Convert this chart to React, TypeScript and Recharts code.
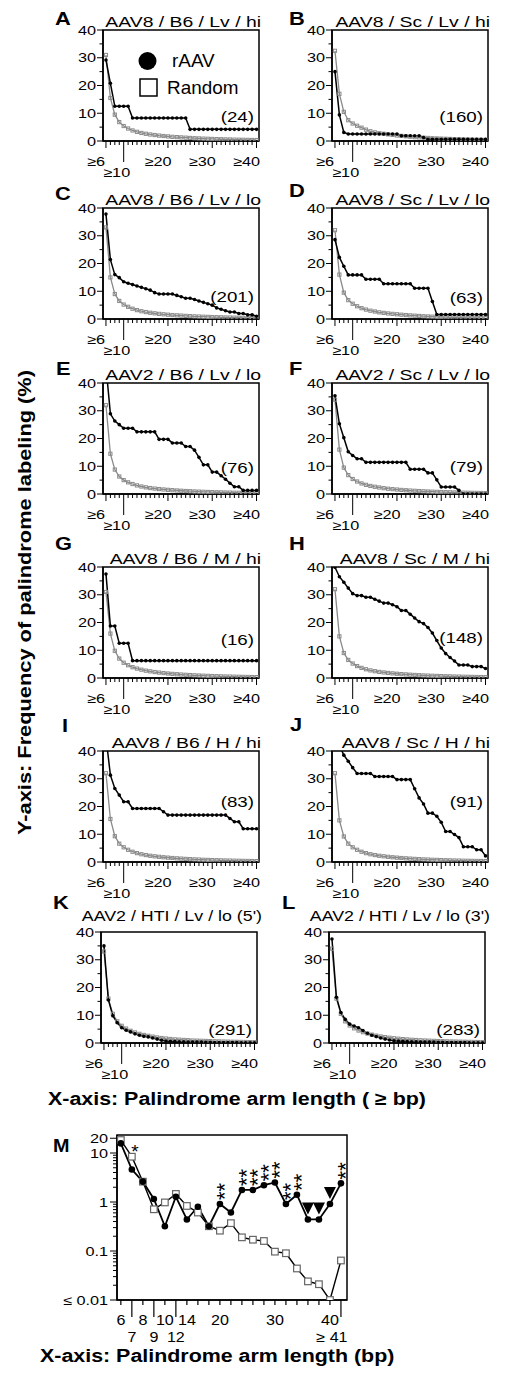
import React from 'react';
import { LineChart, Line, XAxis, YAxis, ReferenceArea, LabelList, Legend } from 'recharts';

const FONT = '"Liberation Sans", Arial, Helvetica, sans-serif';

// ---------- data: panels A–L (x = palindrome arm length >= n bp) ----------
const armLengths = [6, 7, 8, 9, 10, 11, 12, 13, 14, 15, 16, 17, 18, 19, 20, 21, 22, 23, 24, 25, 26, 27, 28, 29, 30, 31, 32, 33, 34, 35, 36, 37, 38, 39, 40];
const yTicksSmall = [0, 5, 10, 15, 20, 25, 30, 35, 40];
const xLabelValues = [6, 10, 20, 30, 40];
const xLabelText = ['≥6', '≥10', '≥20', '≥30', '≥40'];

const rAAV_A = [29.2, 20.8, 12.5, 12.5, 12.5, 12.5, 8.3, 8.3, 8.3, 8.3, 8.3, 8.3, 8.3, 8.3, 8.3, 8.3, 8.3, 8.3, 8.3, 4.2, 4.2, 4.2, 4.2, 4.2, 4.2, 4.2, 4.2, 4.2, 4.2, 4.2, 4.2, 4.2, 4.2, 4.2, 4.2];
const random_A = [31, 15.5, 9.5, 6.8, 5.4, 4.5, 3.8, 3.3, 2.9, 2.6, 2.35, 2.15, 1.95, 1.8, 1.65, 1.5, 1.4, 1.3, 1.2, 1.1, 1.0, 0.93, 0.86, 0.8, 0.74, 0.68, 0.63, 0.58, 0.54, 0.5, 0.46, 0.43, 0.4, 0.37, 0.34];

const rAAV_B = [25, 9.4, 3.1, 2.5, 2.5, 2.5, 2.5, 2.5, 2.5, 2.5, 2.5, 2.5, 2.5, 2.5, 2.5, 1.9, 1.9, 1.9, 1.9, 1.9, 1.25, 0.6, 0.6, 0.6, 0.6, 0.6, 0.6, 0.6, 0.6, 0.6, 0.6, 0.6, 0.6, 0.6, 0.6];
const random_B = [32.5, 17, 10.5, 7.5, 6.3, 5.5, 4.8, 4.1, 3.5, 3.1, 2.8, 2.6, 2.4, 2.2, 2.0, 1.85, 1.7, 1.55, 1.4, 1.3, 1.2, 1.1, 1.0, 0.93, 0.86, 0.8, 0.74, 0.68, 0.63, 0.58, 0.54, 0.5, 0.46, 0.43, 0.4];

const rAAV_C = [37.8, 21.4, 16, 14.9, 13.4, 12.9, 12.4, 11.9, 11.4, 10.9, 10.4, 9.5, 9, 9, 9, 9, 8.5, 8, 7.5, 7.5, 7, 6.5, 6, 5.5, 5, 4, 3.5, 3, 2.5, 2.5, 2, 2, 1.5, 1.5, 1];
const random_C = [33, 15, 9, 6.5, 5.2, 4.4, 3.7, 3.2, 2.8, 2.5, 2.25, 2.05, 1.85, 1.7, 1.55, 1.42, 1.32, 1.22, 1.12, 1.03, 0.95, 0.88, 0.82, 0.76, 0.7, 0.65, 0.6, 0.56, 0.52, 0.48, 0.45, 0.42, 0.39, 0.36, 0.33];

const rAAV_D = [28.6, 22.2, 19, 15.9, 15.9, 15.9, 15.9, 14.3, 14.3, 14.3, 14.3, 12.7, 12.7, 12.7, 12.7, 12.7, 12.7, 12.7, 11.1, 11.1, 11.1, 11.1, 6.3, 1.6, 1.6, 1.6, 1.6, 1.6, 1.6, 1.6, 1.6, 1.6, 1.6, 1.6, 1.6];
const random_D = [32, 16, 9.5, 6.8, 5.5, 4.6, 3.9, 3.4, 3.0, 2.7, 2.4, 2.2, 2.0, 1.85, 1.7, 1.55, 1.42, 1.3, 1.2, 1.1, 1.0, 0.92, 0.85, 0.78, 0.72, 0.66, 0.61, 0.56, 0.52, 0.48, 0.44, 0.41, 0.38, 0.35, 0.32];

const rAAV_E = [46, 28.9, 26.3, 25, 23.7, 23.7, 23.7, 22.4, 22.4, 22.4, 22.4, 22.4, 19.7, 19.7, 19.7, 18.4, 18.4, 18.4, 17.1, 17.1, 15.8, 13.2, 10.5, 10.5, 7.9, 7.9, 6.6, 5.3, 3.9, 2.6, 2.6, 1.3, 1.3, 1.3, 1.3];
const random_E = [32, 14.5, 8.8, 6.3, 5.0, 4.2, 3.6, 3.1, 2.7, 2.4, 2.15, 1.95, 1.78, 1.63, 1.5, 1.38, 1.27, 1.17, 1.08, 1.0, 0.92, 0.85, 0.79, 0.73, 0.68, 0.63, 0.58, 0.54, 0.5, 0.46, 0.43, 0.4, 0.37, 0.34, 0.31];

const rAAV_F = [35.4, 25.3, 20.3, 15.2, 13.9, 12.7, 12.7, 11.4, 11.4, 11.4, 11.4, 11.4, 11.4, 11.4, 11.4, 11.4, 11.4, 8.9, 8.9, 8.9, 8.9, 7.6, 7.6, 5.1, 2.5, 2.5, 2.5, 2.5, 1.3, 0, 0, 0, 0, 0, 0];
const random_F = [34, 16, 9.5, 6.8, 5.4, 4.5, 3.8, 3.3, 2.9, 2.6, 2.35, 2.1, 1.9, 1.75, 1.6, 1.47, 1.35, 1.25, 1.15, 1.06, 0.98, 0.9, 0.83, 0.77, 0.71, 0.66, 0.61, 0.56, 0.52, 0.48, 0.45, 0.42, 0.39, 0.36, 0.33];

const rAAV_G = [37.5, 18.75, 18.75, 12.5, 12.5, 12.5, 6.25, 6.25, 6.25, 6.25, 6.25, 6.25, 6.25, 6.25, 6.25, 6.25, 6.25, 6.25, 6.25, 6.25, 6.25, 6.25, 6.25, 6.25, 6.25, 6.25, 6.25, 6.25, 6.25, 6.25, 6.25, 6.25, 6.25, 6.25, 6.25];
const random_G = [31, 16, 9.8, 7, 5.5, 4.6, 3.9, 3.4, 3.0, 2.65, 2.4, 2.15, 1.95, 1.78, 1.62, 1.48, 1.36, 1.25, 1.15, 1.06, 0.98, 0.9, 0.83, 0.77, 0.71, 0.65, 0.6, 0.55, 0.51, 0.47, 0.44, 0.41, 0.38, 0.35, 0.32];

const rAAV_H = [39.9, 36.5, 34.5, 32.4, 30.4, 29.7, 29.7, 29.1, 29.1, 28.4, 27.7, 27, 27, 26.4, 25.7, 24.3, 24.3, 23, 21.6, 20.3, 19.6, 18.2, 16.2, 13.5, 10.8, 8.8, 7.4, 6.1, 4.7, 4.7, 4.7, 4.1, 4.1, 4.1, 3.4];
const random_H = [32, 15, 9, 6.5, 5.2, 4.3, 3.65, 3.15, 2.75, 2.45, 2.2, 2.0, 1.82, 1.67, 1.53, 1.4, 1.29, 1.19, 1.1, 1.01, 0.93, 0.86, 0.8, 0.74, 0.68, 0.63, 0.58, 0.54, 0.5, 0.46, 0.43, 0.4, 0.37, 0.34, 0.31];

const rAAV_I = [45, 31.3, 26.5, 24.1, 21.7, 21.7, 19.3, 19.3, 19.3, 19.3, 19.3, 19.3, 19.3, 18.1, 16.9, 16.9, 16.9, 16.9, 16.9, 16.9, 16.9, 16.9, 16.9, 16.9, 16.9, 16.9, 16.9, 16.9, 15.7, 14.5, 14.5, 12, 12, 12, 12];
const random_I = [32, 15.5, 9.3, 6.6, 5.3, 4.4, 3.7, 3.2, 2.8, 2.5, 2.25, 2.05, 1.87, 1.71, 1.57, 1.44, 1.32, 1.22, 1.12, 1.03, 0.95, 0.88, 0.81, 0.75, 0.69, 0.64, 0.59, 0.55, 0.51, 0.47, 0.44, 0.41, 0.38, 0.35, 0.32];

const rAAV_J = [55, 42, 38.5, 36.3, 34, 31.9, 31.9, 31.9, 31.9, 30.8, 30.8, 30.8, 30.8, 30.8, 29.7, 29.7, 29.7, 29.7, 26.4, 23.1, 20.9, 17.6, 17.6, 16.5, 14.3, 11, 11, 9.9, 8.8, 5.5, 5.5, 5.5, 4.4, 4.4, 2.2];
const random_J = [32, 15, 9.2, 6.6, 5.3, 4.4, 3.7, 3.2, 2.8, 2.5, 2.25, 2.05, 1.87, 1.71, 1.57, 1.44, 1.32, 1.22, 1.12, 1.03, 0.95, 0.88, 0.81, 0.75, 0.69, 0.64, 0.59, 0.55, 0.51, 0.47, 0.44, 0.41, 0.38, 0.35, 0.32];

const rAAV_K = [35, 15.5, 9.8, 7.3, 5.5, 4.6, 4.0, 3.3, 2.8, 2.4, 2.2, 1.8, 1.4, 1.0, 0.7, 0.6, 0.5, 0.45, 0.4, 0.35, 0.3, 0.3, 0.3, 0.25, 0.25, 0.2, 0.2, 0.2, 0.15, 0.15, 0.15, 0.1, 0.1, 0.1, 0.1];
const random_K = [33, 16, 10.5, 7.8, 6.2, 5.2, 4.4, 3.8, 3.3, 2.9, 2.6, 2.3, 2.0, 1.8, 1.6, 1.45, 1.3, 1.2, 1.1, 1.0, 0.9, 0.85, 0.8, 0.74, 0.68, 0.62, 0.57, 0.53, 0.49, 0.45, 0.42, 0.39, 0.36, 0.33, 0.3];

const rAAV_L = [37.5, 16.5, 11, 8.5, 6.8, 6.1, 5.5, 4.5, 3.5, 2.8, 2.3, 1.8, 1.4, 1.1, 0.8, 0.7, 0.6, 0.5, 0.45, 0.4, 0.35, 0.35, 0.3, 0.3, 0.25, 0.25, 0.2, 0.2, 0.2, 0.15, 0.15, 0.1, 0.1, 0.1, 0.1];
const random_L = [34, 16, 10.5, 7.8, 6.3, 5.3, 4.5, 3.9, 3.4, 3.0, 2.65, 2.35, 2.1, 1.9, 1.7, 1.55, 1.4, 1.28, 1.17, 1.07, 0.98, 0.9, 0.83, 0.77, 0.71, 0.65, 0.6, 0.55, 0.51, 0.47, 0.44, 0.41, 0.38, 0.35, 0.32];

// ---------- data: panel M (per arm length, log scale) ----------
const mCats = ['6', '7', '8', '9', '10', '12', '14', '16', '18', '20', '22', '24', '26', '28', '30', '32', '34', '36', '38', '40', '≥41'];
const mRaav = [15.7, 4.6, 2.6, 1.15, 0.32, 1.28, 0.44, 0.8, 0.32, 0.91, 0.61, 1.76, 1.76, 2.2, 2.5, 0.91, 1.41, 0.44, 0.44, 0.91, 2.4];
const mRandom = [18.4, 8.4, 2.6, 0.71, 0.98, 1.46, 0.83, 0.61, 0.32, 0.26, 0.37, 0.19, 0.17, 0.16, 0.097, 0.09, 0.044, 0.024, 0.021, 0.01, 0.064];
const mSig = ['', '*', '', '', '', '', '', '', '', '**', '', '**', '**', '**', '**', '**', '**', '', '', '', '**'];
const mDepleted = [0, 0, 0, 0, 0, 0, 0, 0, 0, 0, 0, 0, 0, 0, 0, 0, 0, 1, 1, 1, 0];
const mRow1 = ['6', '8', '10', '14', '20', '30', '40'];
const mRow2 = ['7', '9', '12', '≥41'];
const mYTicks = [0.01, 0.02, 0.03, 0.04, 0.05, 0.06, 0.07, 0.08, 0.09, 0.1, 0.2, 0.3, 0.4, 0.5, 0.6, 0.7, 0.8, 0.9, 1, 2, 3, 4, 5, 6, 7, 8, 9, 10, 20];
const mYLabelValues = [0.01, 0.1, 1, 10, 20];
const mYLabelText = ['≤ 0.01', '0.1', '1', '10', '20'];

// ---------- helpers ----------
function Txt(props: any) {
  const { x, y, anchor = 'start', size = 13, weight = 'normal', sx = 1.25, rotate = 0, children } = props;
  return (
    <text
      transform={`translate(${x},${y})${rotate ? ` rotate(${rotate})` : ''} scale(${sx},1)`}
      textAnchor={anchor}
      fontSize={size}
      fontWeight={weight}
      fontFamily={FONT}
      fill="#000"
    >
      {children}
    </text>
  );
}

const PW = 156, PH = 111, YW = 45, MT = 8, MR = 4, XH = 45;
const X_DOMAIN: [number, number] = [5.33, 40.56];
const rowTops = [30, 208, 383, 567, 751, 932];

function SmallXTick(p: any) {
  const { x, y, payload } = p;
  const v = payload.value;
  const li = xLabelValues.indexOf(v);
  const len = v === 10 ? 21 : li >= 0 ? 7 : 4;
  return (
    <g>
      <line x1={x} x2={x} y1={y} y2={y + len} stroke="#000" strokeWidth={1} />
      {li >= 0 && (
        <Txt x={x + (v === 10 ? -7 : -10)} y={y + (v === 10 ? 36 : 25)} anchor="middle" size={13}>
          {xLabelText[li]}
        </Txt>
      )}
    </g>
  );
}

function SmallYTick(p: any) {
  const { x, y, payload } = p;
  const v = payload.value;
  const major = v % 10 === 0;
  return (
    <g>
      <line x1={x} x2={x - (major ? 6 : 3.5)} y1={y} y2={y} stroke="#000" strokeWidth={1} />
      {major && (
        <Txt x={x - 7} y={y + 4.6} anchor="end" size={13}>
          {String(v)}
        </Txt>
      )}
    </g>
  );
}

const smallCircle = (p: any) =>
  p.cx == null || p.cy == null ? <g key={`c${p.index}`} /> : <circle key={`c${p.index}`} cx={p.cx} cy={p.cy} r={1.8} fill="#000" />;
const smallSquare = (p: any) =>
  p.cx == null || p.cy == null ? <g key={`s${p.index}`} /> : (
    <rect key={`s${p.index}`} x={p.cx - 1.6} y={p.cy - 1.6} width={3.2} height={3.2} fill="none" stroke="#8a8a8a" strokeWidth={1} />
  );

type PanelSpec = {
  id: string; title: string; n: string; raav: number[]; random: number[];
  col: number; row: number; letterDx: number; letterDy: number; nDy: number; titleDy: number; titleDx: number; titleSx: number; legend?: boolean;
};

const panels: PanelSpec[] = [
  { id: 'A', title: 'AAV8 / B6 / Lv / hi', n: '(24)', raav: rAAV_A, random: random_A, col: 0, row: 0, letterDx: -48, letterDy: -5, nDy: 19, titleDy: -3, titleDx: 2, titleSx: 1.25, legend: true },
  { id: 'B', title: 'AAV8 / Sc / Lv / hi', n: '(160)', raav: rAAV_B, random: random_B, col: 1, row: 0, letterDx: -43, letterDy: -5, nDy: 19, titleDy: -3, titleDx: 2, titleSx: 1.25 },
  { id: 'C', title: 'AAV8 / B6 / Lv / lo', n: '(201)', raav: rAAV_C, random: random_C, col: 0, row: 1, letterDx: -48, letterDy: -8, nDy: 17, titleDy: -3, titleDx: 2, titleSx: 1.25 },
  { id: 'D', title: 'AAV8 / Sc / Lv / lo', n: '(63)', raav: rAAV_D, random: random_D, col: 1, row: 1, letterDx: -43, letterDy: -11, nDy: 16, titleDy: -3, titleDx: 2, titleSx: 1.25 },
  { id: 'E', title: 'AAV2 / B6 / Lv / lo', n: '(76)', raav: rAAV_E, random: random_E, col: 0, row: 2, letterDx: -47, letterDy: -8, nDy: 21, titleDy: -3, titleDx: 2, titleSx: 1.25 },
  { id: 'F', title: 'AAV2 / Sc / Lv / lo', n: '(79)', raav: rAAV_F, random: random_F, col: 1, row: 2, letterDx: -43, letterDy: -8, nDy: 22, titleDy: -3, titleDx: 2, titleSx: 1.25 },
  { id: 'G', title: 'AAV8 / B6 / M / hi', n: '(16)', raav: rAAV_G, random: random_G, col: 0, row: 3, letterDx: -48, letterDy: -17, nDy: 33, titleDy: -3, titleDx: 2, titleSx: 1.25 },
  { id: 'H', title: 'AAV8 / Sc / M / hi', n: '(148)', raav: rAAV_H, random: random_H, col: 1, row: 3, letterDx: -43, letterDy: -17, nDy: 35, titleDy: -3, titleDx: 2, titleSx: 1.25 },
  { id: 'I', title: 'AAV8 / B6 / H / hi', n: '(83)', raav: rAAV_I, random: random_I, col: 0, row: 4, letterDx: -41, letterDy: -19, nDy: 55, titleDy: -3, titleDx: 2, titleSx: 1.25 },
  { id: 'J', title: 'AAV8 / Sc / H / hi', n: '(91)', raav: rAAV_J, random: random_J, col: 1, row: 4, letterDx: -42, letterDy: -20, nDy: 55, titleDy: -3, titleDx: 2, titleSx: 1.25 },
  { id: 'K', title: "AAV2 / HTI / Lv / lo (5')", n: '(291)', raav: rAAV_K, random: random_K, col: 0, row: 5, letterDx: -48, letterDy: -23, nDy: 8, titleDy: -11, titleDx: 5, titleSx: 1.15 },
  { id: 'L', title: "AAV2 / HTI / Lv / lo (3')", n: '(283)', raav: rAAV_L, random: random_L, col: 1, row: 5, letterDx: -47, letterDy: -23, nDy: 8, titleDy: -11, titleDx: 5, titleSx: 1.15 },
];

function plotBox(s: PanelSpec) {
  const lefts = s.row === 5 ? [101, 329] : [103, 332];
  return { left: lefts[s.col], top: rowTops[s.row] };
}

function LegendBox() {
  return (
    <svg width={120} height={60} style={{ overflow: 'visible' }}>
      <circle cx={17.5} cy={16} r={9} fill="#000" />
      <Txt x={42} y={22} size={18} sx={1.05}>rAAV</Txt>
      <rect x={10} y={34} width={17} height={17} fill="#fff" stroke="#000" strokeWidth={1.5} />
      <Txt x={37} y={49} size={18} sx={1.05}>Random</Txt>
    </svg>
  );
}

function Panel({ spec }: { spec: PanelSpec }) {
  const { left, top } = plotBox(spec);
  const data = armLengths.map((x, i) => ({ x, raav: spec.raav[i], random: spec.random[i] }));
  return (
    <div style={{ position: 'absolute', left: left - YW, top: top - MT }}>
      <LineChart width={YW + PW + MR} height={MT + PH + XH} data={data} margin={{ top: MT, right: MR, bottom: 0, left: 0 }}>
        <XAxis dataKey="x" type="number" domain={X_DOMAIN} allowDataOverflow ticks={armLengths} interval={0} height={XH}
          tickSize={0} tickMargin={0} tickLine={false} tick={SmallXTick} axisLine={{ stroke: '#000', strokeWidth: 1.5 }} />
        <YAxis type="number" domain={[0, 40]} allowDataOverflow ticks={yTicksSmall} interval={0} width={YW}
          tickSize={0} tickMargin={0} tickLine={false} tick={SmallYTick} axisLine={{ stroke: '#000', strokeWidth: 1.5 }} />
        <ReferenceArea x1={X_DOMAIN[0]} x2={X_DOMAIN[1]} y1={0} y2={40} fill="none" fillOpacity={0} stroke="#000" strokeWidth={1.5} ifOverflow="visible" />
        <Line type="linear" dataKey="random" name="Random" stroke="#8a8a8a" strokeWidth={1.3} dot={smallSquare} activeDot={false} isAnimationActive={false} />
        <Line type="linear" dataKey="raav" name="rAAV" stroke="#000" strokeWidth={1.5} dot={smallCircle} activeDot={false} isAnimationActive={false} />
        {spec.legend && (
          <Legend layout="horizontal" verticalAlign="middle" align="center" content={() => <LegendBox />}
            wrapperStyle={{ left: 72, top: 23, width: 120, height: 60 }} />
        )}
      </LineChart>
    </div>
  );
}

// ---------- panel M ----------
const M_LEFT = 117, M_TOP = 1135, M_W = 230, M_H = 165, M_YW = 60, M_XH = 50, M_MR = 24;
const M_XDOMAIN: [number, number] = [-0.35, 20.55];
const M_YDOMAIN: [number, number] = [0.01, 23.3];

function MXTick(p: any) {
  const { x, y, payload } = p;
  const lbl = mCats[payload.value];
  const r2 = mRow2.indexOf(lbl) >= 0;
  const r1 = mRow1.indexOf(lbl) >= 0;
  return (
    <g>
      <line x1={x} x2={x} y1={y} y2={y + (r2 ? 17 : 5)} stroke="#000" strokeWidth={1.2} />
      {(r1 || r2) && (
        <Txt x={x + (lbl === '≥41' ? -9 : 0)} y={y + (r2 ? 42 : 25)} anchor="middle" size={14} sx={1.15}>
          {lbl === '≥41' ? '≥ 41' : lbl}
        </Txt>
      )}
    </g>
  );
}

function MYTick(p: any) {
  const { x, y, payload } = p;
  const idx = mYLabelValues.indexOf(payload.value);
  const major = idx >= 0;
  return (
    <g>
      <line x1={x} x2={x - (major ? 7 : 4)} y1={y} y2={y} stroke="#000" strokeWidth={1} />
      {major && (
        <Txt x={x - 9} y={y + 4.6} anchor="end" size={13}>
          {mYLabelText[idx]}
        </Txt>
      )}
    </g>
  );
}

// significance asterisks: "**" is one text turned upright so the two stars stack vertically
function StarMark(p: any) {
  const { x, y, value } = p;
  if (!value || x == null || y == null) return null;
  if (String(value).length === 1) {
    return (
      <text x={x + 3} y={y + 1} textAnchor="middle" fontSize={19} fontFamily={FONT} fill="#000">*</text>
    );
  }
  return (
    <text transform={`translate(${x + 12.5},${y - 12.5}) rotate(-90)`} textAnchor="middle" fontSize={22} fontFamily={FONT} fill="#000">
      {String(value)}
    </text>
  );
}

function DepMark(p: any) {
  const { x, y, value } = p;
  if (!value || x == null || y == null) return null;
  return <polygon points={`${x - 6},${y - 17} ${x + 6},${y - 17} ${x},${y - 5}`} fill="#000" />;
}

const mCircle = (p: any) =>
  p.cx == null || p.cy == null ? <g key={`mc${p.index}`} /> : <circle key={`mc${p.index}`} cx={p.cx} cy={p.cy} r={3.3} fill="#000" />;
const mSquare = (p: any) =>
  p.cx == null || p.cy == null ? <g key={`ms${p.index}`} /> : (
    <rect key={`ms${p.index}`} x={p.cx - 3.3} y={p.cy - 3.3} width={6.6} height={6.6} fill="#fff" stroke="#666" strokeWidth={1.2} />
  );

function MPanel() {
  const data = mCats.map((c, i) => ({
    i, cat: c, raav: mRaav[i], random: mRandom[i],
    top: Math.max(mRaav[i], mRandom[i]), sig: mSig[i], dep: mDepleted[i],
  }));
  return (
    <div style={{ position: 'absolute', left: M_LEFT - M_YW, top: M_TOP - 8 }}>
      <LineChart width={M_YW + M_W + M_MR} height={8 + M_H + M_XH} data={data} margin={{ top: 8, right: M_MR, bottom: 0, left: 0 }}>
        <XAxis dataKey="i" type="number" domain={M_XDOMAIN} allowDataOverflow ticks={mCats.map((_, i) => i)} interval={0} height={M_XH}
          tickSize={0} tickMargin={0} tickLine={false} tick={MXTick} axisLine={{ stroke: '#000', strokeWidth: 1.5 }} />
        <YAxis type="number" scale="log" domain={M_YDOMAIN} allowDataOverflow ticks={mYTicks} interval={0} width={M_YW}
          tickSize={0} tickMargin={0} tickLine={false} tick={MYTick} axisLine={{ stroke: '#000', strokeWidth: 1.5 }} />
        <ReferenceArea x1={M_XDOMAIN[0]} x2={M_XDOMAIN[1]} y1={M_YDOMAIN[0]} y2={M_YDOMAIN[1]} fill="none" fillOpacity={0} stroke="#000" strokeWidth={1.5} ifOverflow="visible" />
        <Line type="linear" dataKey="random" stroke="#000" strokeWidth={1.4} dot={mSquare} activeDot={false} isAnimationActive={false} />
        <Line type="linear" dataKey="raav" stroke="#000" strokeWidth={1.8} dot={mCircle} activeDot={false} isAnimationActive={false} />
        <Line type="linear" dataKey="top" stroke="none" dot={false} activeDot={false} isAnimationActive={false}>
          <LabelList dataKey="sig" content={StarMark} />
          <LabelList dataKey="dep" content={DepMark} />
        </Line>
      </LineChart>
    </div>
  );
}

export default function App() {
  return (
    <div style={{ position: 'absolute', left: 0, top: 0, width: 525, height: 1373, background: '#fff', overflow: 'hidden' }}>
      {panels.map((p) => (
        <Panel key={p.id} spec={p} />
      ))}
      <MPanel />
      <svg width={525} height={1373} style={{ position: 'absolute', left: 0, top: 0, pointerEvents: 'none' }}>
        {panels.map((p) => {
          const { left, top } = plotBox(p);
          return (
            <g key={`t${p.id}`}>
              <Txt x={left + p.letterDx} y={top + p.letterDy} size={19} weight="bold" sx={1.15}>{p.id}</Txt>
              <Txt x={left + PW + p.titleDx} y={top + p.titleDy} anchor="end" size={15.5} sx={p.titleSx}>{p.title}</Txt>
              <Txt x={left + PW - 5} y={top + PH - p.nDy} anchor="end" size={15}>{p.n}</Txt>
            </g>
          );
        })}
        <text transform="translate(31,835) rotate(-90)" textAnchor="start" fontSize={18} fontWeight="bold" fontFamily={FONT}
          textLength={465} lengthAdjust="spacingAndGlyphs" fill="#000">
          Y-axis: Frequency of palindrome labeling (%)
        </text>
        <Txt x={48} y={1105} size={18} weight="bold" sx={1.19}>X-axis: Palindrome arm length ( ≥ bp)</Txt>
        <Txt x={53} y={1152} size={18} weight="bold" sx={1.1}>M</Txt>
        <Txt x={40} y={1362} size={18} weight="bold" sx={1.19}>X-axis: Palindrome arm length (bp)</Txt>
      </svg>
    </div>
  );
}
